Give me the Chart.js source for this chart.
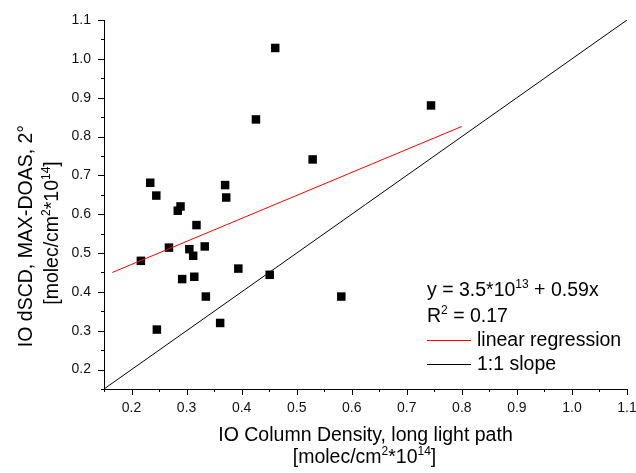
<!DOCTYPE html>
<html>
<head>
<meta charset="utf-8">
<script src="https://cdn.jsdelivr.net/npm/chart.js@4/dist/chart.umd.min.js"></script>
<style>
  html,body{margin:0;padding:0;background:#fff;}
  #wrap{width:636px;height:473px;}
</style>
</head>
<body>
<div id="wrap"><canvas id="c" width="636" height="473"></canvas></div>
<script>
// ---------- data ----------
const ioColumn = [0.217,0.234,0.245,0.246,0.268,0.284,0.289,0.292,0.305,0.312,0.314,0.318,0.333,0.335,0.361,0.370,0.372,0.394,0.426,0.451,0.461,0.529,0.581,0.744];
const ioDscd   = [0.480,0.681,0.648,0.303,0.514,0.609,0.620,0.433,0.510,0.493,0.439,0.572,0.517,0.388,0.320,0.675,0.643,0.460,0.844,0.444,1.028,0.741,0.388,0.880];
const fitX = [0.165, 0.80];
const fitY = [0.450, 0.826];
const slopeX = [0.15, 1.10];
const slopeY = [0.15, 1.10];
const axisMin = 0.15, axisMax = 1.1, tickStep = 0.05;

const FONT = '"Liberation Sans", Arial, sans-serif';
const TITLE = 19.5;
const pts = (xs, ys) => xs.map((x,i)=>({x, y: ys[i]}));
const isMajor = v => Math.abs(Math.round(v*20)) % 2 === 0;

// text with superscripts: parts = [[text, sup?], ...]
function richWidth(ctx, parts, size){
  let w = 0;
  parts.forEach(([t,sup])=>{ ctx.font = (sup? Math.round(size*0.6) : size) + 'px ' + FONT; w += ctx.measureText(t).width; });
  return w;
}
function drawRich(ctx, parts, x, y, size, align){
  let cx = align === 'center' ? x - richWidth(ctx, parts, size)/2 : x;
  ctx.textBaseline = 'alphabetic'; ctx.textAlign = 'left'; ctx.fillStyle = '#000';
  parts.forEach(([t,sup])=>{
    ctx.font = (sup? Math.round(size*0.6) : size) + 'px ' + FONT;
    ctx.fillText(t, cx, sup ? y - size*0.42 : y);
    cx += ctx.measureText(t).width;
  });
}

const unitParts = [['[molec/cm'],['2',true],['*10'],['14',true],[']']];

const decor = {
  id: 'decor',
  afterDraw(chart){
    const {ctx, scales:{x, y}} = chart;
    ctx.save();
    // tick marks, outward, minor ones shorter
    ctx.strokeStyle = '#000'; ctx.lineWidth = 1;
    ctx.beginPath();
    x.ticks.forEach(t=>{
      const px = Math.round(x.getPixelForValue(t.value)) + 0.5;
      const len = isMajor(t.value) ? 6 : 3;
      ctx.moveTo(px, x.top); ctx.lineTo(px, x.top + len);
    });
    y.ticks.forEach(t=>{
      const py = Math.round(y.getPixelForValue(t.value)) + 0.5;
      const len = isMajor(t.value) ? 6 : 3;
      ctx.moveTo(y.right, py); ctx.lineTo(y.right - len, py);
    });
    ctx.stroke();

    // axis titles
    const cxMid = (chart.chartArea.left + chart.chartArea.right)/2;
    drawRich(ctx, [['IO Column Density, long light path']], cxMid, 441, TITLE, 'center');
    drawRich(ctx, unitParts, cxMid - 1, 463, TITLE, 'center');
    ctx.save();
    ctx.translate(32, 236); ctx.rotate(-Math.PI/2);
    drawRich(ctx, [['IO dSCD, MAX-DOAS, 2°']], 0, 0, TITLE, 'center');
    ctx.restore();
    ctx.save();
    ctx.translate(58, 233); ctx.rotate(-Math.PI/2);
    drawRich(ctx, unitParts, 0, 0, TITLE, 'center');
    ctx.restore();

    // fit annotation + legend
    drawRich(ctx, [['y = 3.5*10'],['13',true],[' + 0.59x']], 427, 296, TITLE);
    drawRich(ctx, [['R'],['2',true],[' = 0.17']], 427, 322, TITLE);
    ctx.lineWidth = 1;
    ctx.strokeStyle = '#ff0000';
    ctx.beginPath(); ctx.moveTo(427, 340.5); ctx.lineTo(471, 340.5); ctx.stroke();
    ctx.strokeStyle = '#000';
    ctx.beginPath(); ctx.moveTo(427, 364.5); ctx.lineTo(471, 364.5); ctx.stroke();
    drawRich(ctx, [['linear regression']], 477, 346, TITLE);
    drawRich(ctx, [['1:1 slope']], 477, 370, TITLE);
    ctx.restore();
  }
};

const axisCommon = {
  type: 'linear',
  min: axisMin, max: axisMax,
  grid: { display: false, drawTicks: false },
  border: { display: true, color: '#000', width: 1 },
  ticks: {
    stepSize: tickStep, autoSkip: false, maxRotation: 0,
    color: '#111', font: { family: FONT, size: 14 },
    callback: v => isMajor(v) ? v.toFixed(1) : ''
  }
};

new Chart(document.getElementById('c'), {
  type: 'scatter',
  data: {
    datasets: [
      { label: '1:1 slope', data: pts(slopeX, slopeY), showLine: true,
        borderColor: '#000', borderWidth: 1, pointRadius: 0 },
      { label: 'linear regression', data: pts(fitX, fitY), showLine: true,
        borderColor: '#ff0000', borderWidth: 1, pointRadius: 0 },
      { label: 'IO', data: pts(ioColumn, ioDscd), showLine: false,
        pointStyle: 'rect', pointRadius: 6, backgroundColor: '#000', borderWidth: 0 }
    ]
  },
  options: {
    responsive: false, animation: false,
    layout: { padding: { left: 0, top: 20, right: 9, bottom: 0 } },
    plugins: { legend: { display: false }, tooltip: { enabled: false } },
    scales: {
      x: { ...axisCommon, position: 'bottom',
           ticks: { ...axisCommon.ticks, padding: 11 },
           afterFit: s => { s.height = 84; s.paddingLeft = 0; s.paddingRight = 0; } },
      y: { ...axisCommon, position: 'left',
           ticks: { ...axisCommon.ticks, padding: 13 },
           afterFit: s => { s.width = 104; s.paddingTop = 0; s.paddingBottom = 0; } }
    }
  },
  plugins: [decor]
});
</script>
</body>
</html>
